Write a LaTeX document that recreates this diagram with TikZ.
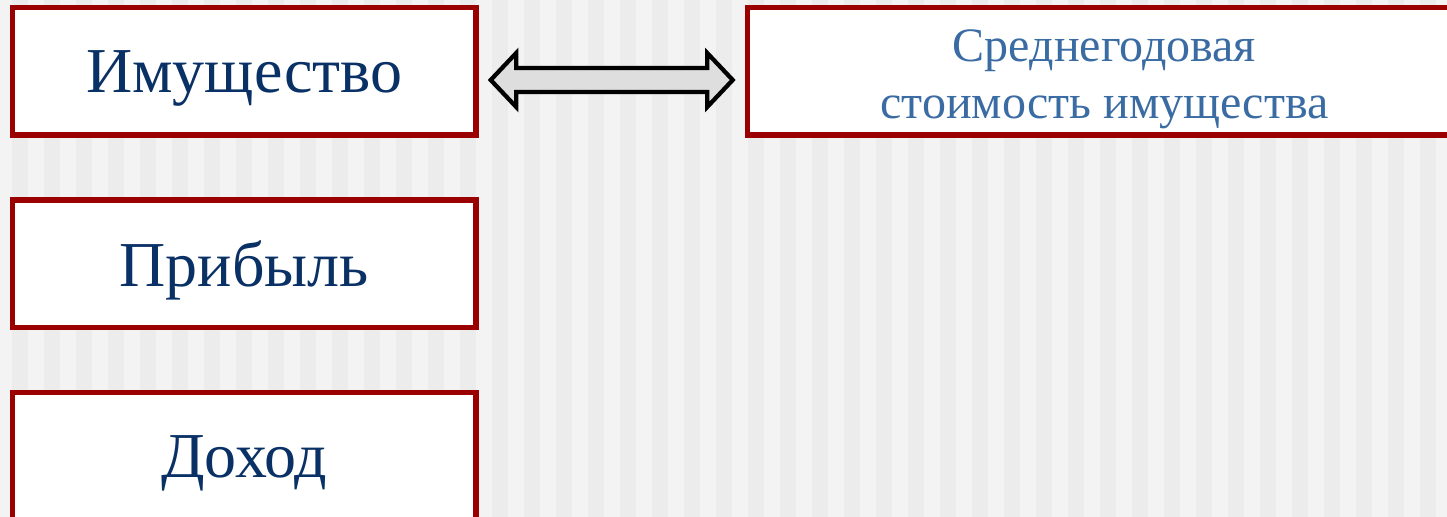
\documentclass[tikz,border=0pt]{standalone}
\usepackage{fontspec}
\setmainfont{Liberation Serif}
\usetikzlibrary{positioning,calc}
\definecolor{boxred}{RGB}{155,0,0}
\definecolor{navy}{RGB}{10,49,101}
\definecolor{steel}{RGB}{58,108,163}
\definecolor{stripeA}{RGB}{243,243,243}
\definecolor{stripeB}{RGB}{236,236,236}
\tikzset{
  box/.style={rectangle, draw=boxred, line width=4.1pt, fill=white, minimum width=347.6pt, minimum height=95.6pt, inner sep=0pt, text depth=0pt, node distance=44.6pt, text=navy, font=\fontsize{48}{55}\selectfont},
  bigarrow/.style={draw=black, line width=3.2pt, fill=black!13, line join=miter}
}

\begin{document}
\begin{tikzpicture}[x=0.75pt, y=-0.75pt]
      \useasboundingbox (0,0) rectangle (1447,517);
      % background stripes
      \fill[stripeA] (0,0) rectangle (1447,517);
      \foreach \s in {0,...,44}
        \fill[stripeB] (12+32*\s,0) rectangle (28+32*\s,517);

      \node[box] (Imush) at (244.25,71.5) {Имущество};
      \node[box, below=of Imush] (Pribyl) {Прибыль};
      \node[box, below=of Pribyl] (Dohod) {Доход};
      \node[box, right=199.5pt of Imush, minimum width=535.5pt, text=steel, text height=71pt,
            font=\fontsize{36}{43}\selectfont, align=center] (Sredn)
            {Среднегодовая\\стоимость\ имущества};

      % draw the double arrow
      \coordinate (mid) at ($(Imush.east)!0.5!(Sredn.west)+(0,8.5)$);
      \draw[bigarrow] ($(mid)+(-121,0)$) -- ++(25.5,-27) -- ++(0,15) -- ++(191,0)
          -- ++(0,-15) -- ++(25.5,27) -- ++(-25.5,27) -- ++(0,-15) -- ++(-191,0)
          -- ++(0,15) -- cycle;
\end{tikzpicture}
\end{document}
